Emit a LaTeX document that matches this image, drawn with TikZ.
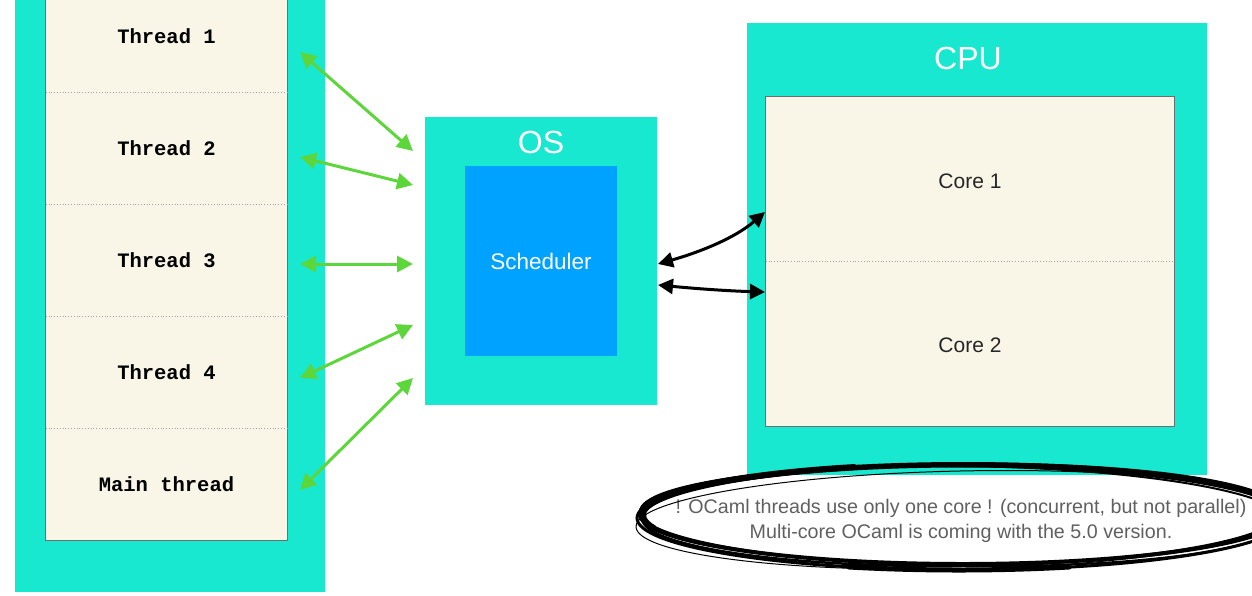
\documentclass[tikz,border=0pt]{standalone}
\usepackage{fontspec}
\setmainfont{Liberation Sans}
\newfontfamily\monof{Liberation Mono}
\usetikzlibrary{arrows.meta}
\definecolor{teal1}{RGB}{25,232,208}
\definecolor{cream}{RGB}{249,245,231}
\definecolor{sched}{RGB}{0,162,255}
\definecolor{garrow}{RGB}{93,214,59}
\definecolor{txtgray}{RGB}{96,96,96}
\definecolor{cellline}{RGB}{110,110,110}
\tikzset{
  panel/.style={fill=teal1, draw=none, inner sep=0pt, anchor=north west},
  cell/.style={fill=cream, draw=none, minimum width=241pt, minimum height=112pt, inner sep=0pt,
    font=\monof\bfseries\fontsize{20.5}{24}\selectfont},
  corecell/.style={fill=cream, draw=none, minimum width=408pt, inner sep=0pt},
  corelabel/.style={font=\fontsize{21}{24}\selectfont, text=black!85, yshift=-1.5pt, inner sep=0pt},
  title/.style={text=white, font=\fontsize{32}{36}\selectfont, inner sep=0pt},
  garr/.style={draw=garrow, line width=3pt, {Triangle[length=16pt,width=16pt]}-{Triangle[length=16pt,width=16pt]}},
  barr/.style={draw=black, line width=3pt, {Triangle[length=15pt,width=15pt]}-{Triangle[length=15pt,width=15pt]}},
  divider/.style={draw=gray!70, dotted, line width=0.8pt},
  brush/.style={draw=black}
}
\begin{document}
\begin{tikzpicture}[x=1pt,y=-1pt]
\useasboundingbox (0,0) rectangle (1252,595);
\clip (0,0) rectangle (1252,595);
% left panel
\node[panel, minimum width=310pt, minimum height=620pt] (left) at (15,-28) {};
\node[cell] (t1) at (166.5,36) {Thread 1};
\node[cell] (t2) at (166.5,148) {Thread 2};
\node[cell] (t3) at (166.5,260) {Thread 3};
\node[cell] (t4) at (166.5,372) {Thread 4};
\node[cell] (t5) at (166.5,484) {Main thread};
\draw[cellline, line width=0.8pt] (t1.north west) -- (t5.south west) -- (t5.south east) -- (t1.north east);
\draw[divider] (t1.south west) -- (t1.south east);
\draw[divider] (t2.south west) -- (t2.south east);
\draw[divider] (t3.south west) -- (t3.south east);
\draw[divider] (t4.south west) -- (t4.south east);
% OS
\node[panel, minimum width=232pt, minimum height=288pt] (os) at (425,117) {};
\node[title] (ostitle) at (541,142) {OS};
\node[fill=sched, minimum width=152pt, minimum height=190pt, inner sep=0pt, text=white,
  font=\fontsize{22.5}{26}\selectfont] (sch) at (541,261) {Scheduler};
% CPU
\node[panel, minimum width=460pt, minimum height=452pt] (cpu) at (747,23) {};
\node[title] (cputitle) at (968,58) {CPU};
\node[corecell, minimum height=165pt, label={[corelabel]center:Core 1}] (c1) at (970,179.5) {};
\node[corecell, minimum height=164pt, label={[corelabel]center:Core 2}] (c2) at (970,344) {};
\draw[cellline, line width=0.8pt] (c1.north west) rectangle (c2.south east);
\draw[divider] (c2.north west) -- (c2.north east);
% green arrows
\coordinate (a1) at (300,52);  \coordinate (b1) at (413,151);
\coordinate (a2) at (300,157); \coordinate (b2) at (413,185);
\coordinate (a3) at (300,264); \coordinate (b3) at (413,264);
\coordinate (a4) at (300,378); \coordinate (b4) at (413,325);
\coordinate (a5) at (300,490); \coordinate (b5) at (413,378);
\draw[garr] (a1) -- (b1);
\draw[garr] (a2) -- (b2);
\draw[garr] (a3) -- (b3);
\draw[garr] (a4) -- (b4);
\draw[garr] (a5) -- (b5);
% black arrows
\coordinate (s1) at (658,264); \coordinate (k1) at (765,212);
\coordinate (s2) at (658,285); \coordinate (k2) at (765,292);
\draw[barr] (s1) .. controls (700,252) and (735,238) .. (k1);
\draw[barr] (s2) .. controls (700,289) and (730,291) .. (k2);
% note
\node[align=center, text=txtgray, inner sep=0pt, font=\fontsize{19.7}{25}\selectfont] (note) at (961,520.5)
  {! OCaml threads use only one core ! (concurrent, but not parallel)\\Multi-core OCaml is coming with the 5.0 version.};
\coordinate (e) at (962,518);
\draw[brush, line width=3pt] (e) ellipse [x radius=325pt, y radius=52pt];
\draw[brush, line width=2pt, rotate around={-0.8:(e)}] ([yshift=2pt]e) ellipse [x radius=322pt, y radius=50pt];
\draw[brush, line width=2.5pt, rotate around={0.6:(e)}] ([yshift=3pt]e) ellipse [x radius=320pt, y radius=51pt];
\draw[brush, line width=1pt, rotate around={1.2:(e)}] ([yshift=-2pt]e) ellipse [x radius=326pt, y radius=49pt];
\draw[brush, line width=4pt] ([xshift=1pt,yshift=4pt]e) ellipse [x radius=323pt, y radius=50pt];
\draw[brush, line width=6pt, line cap=round] ([xshift=2pt,yshift=3pt]e) ++(110:{321pt} and {51pt}) arc[start angle=110, end angle=195, x radius=321pt, y radius=51pt];
\draw[brush, line width=5pt, line cap=round] ([xshift=-3pt,yshift=-2pt]e) ++(250:{322pt} and {50pt}) arc[start angle=250, end angle=290, x radius=322pt, y radius=50pt];
\end{tikzpicture}
\end{document}
